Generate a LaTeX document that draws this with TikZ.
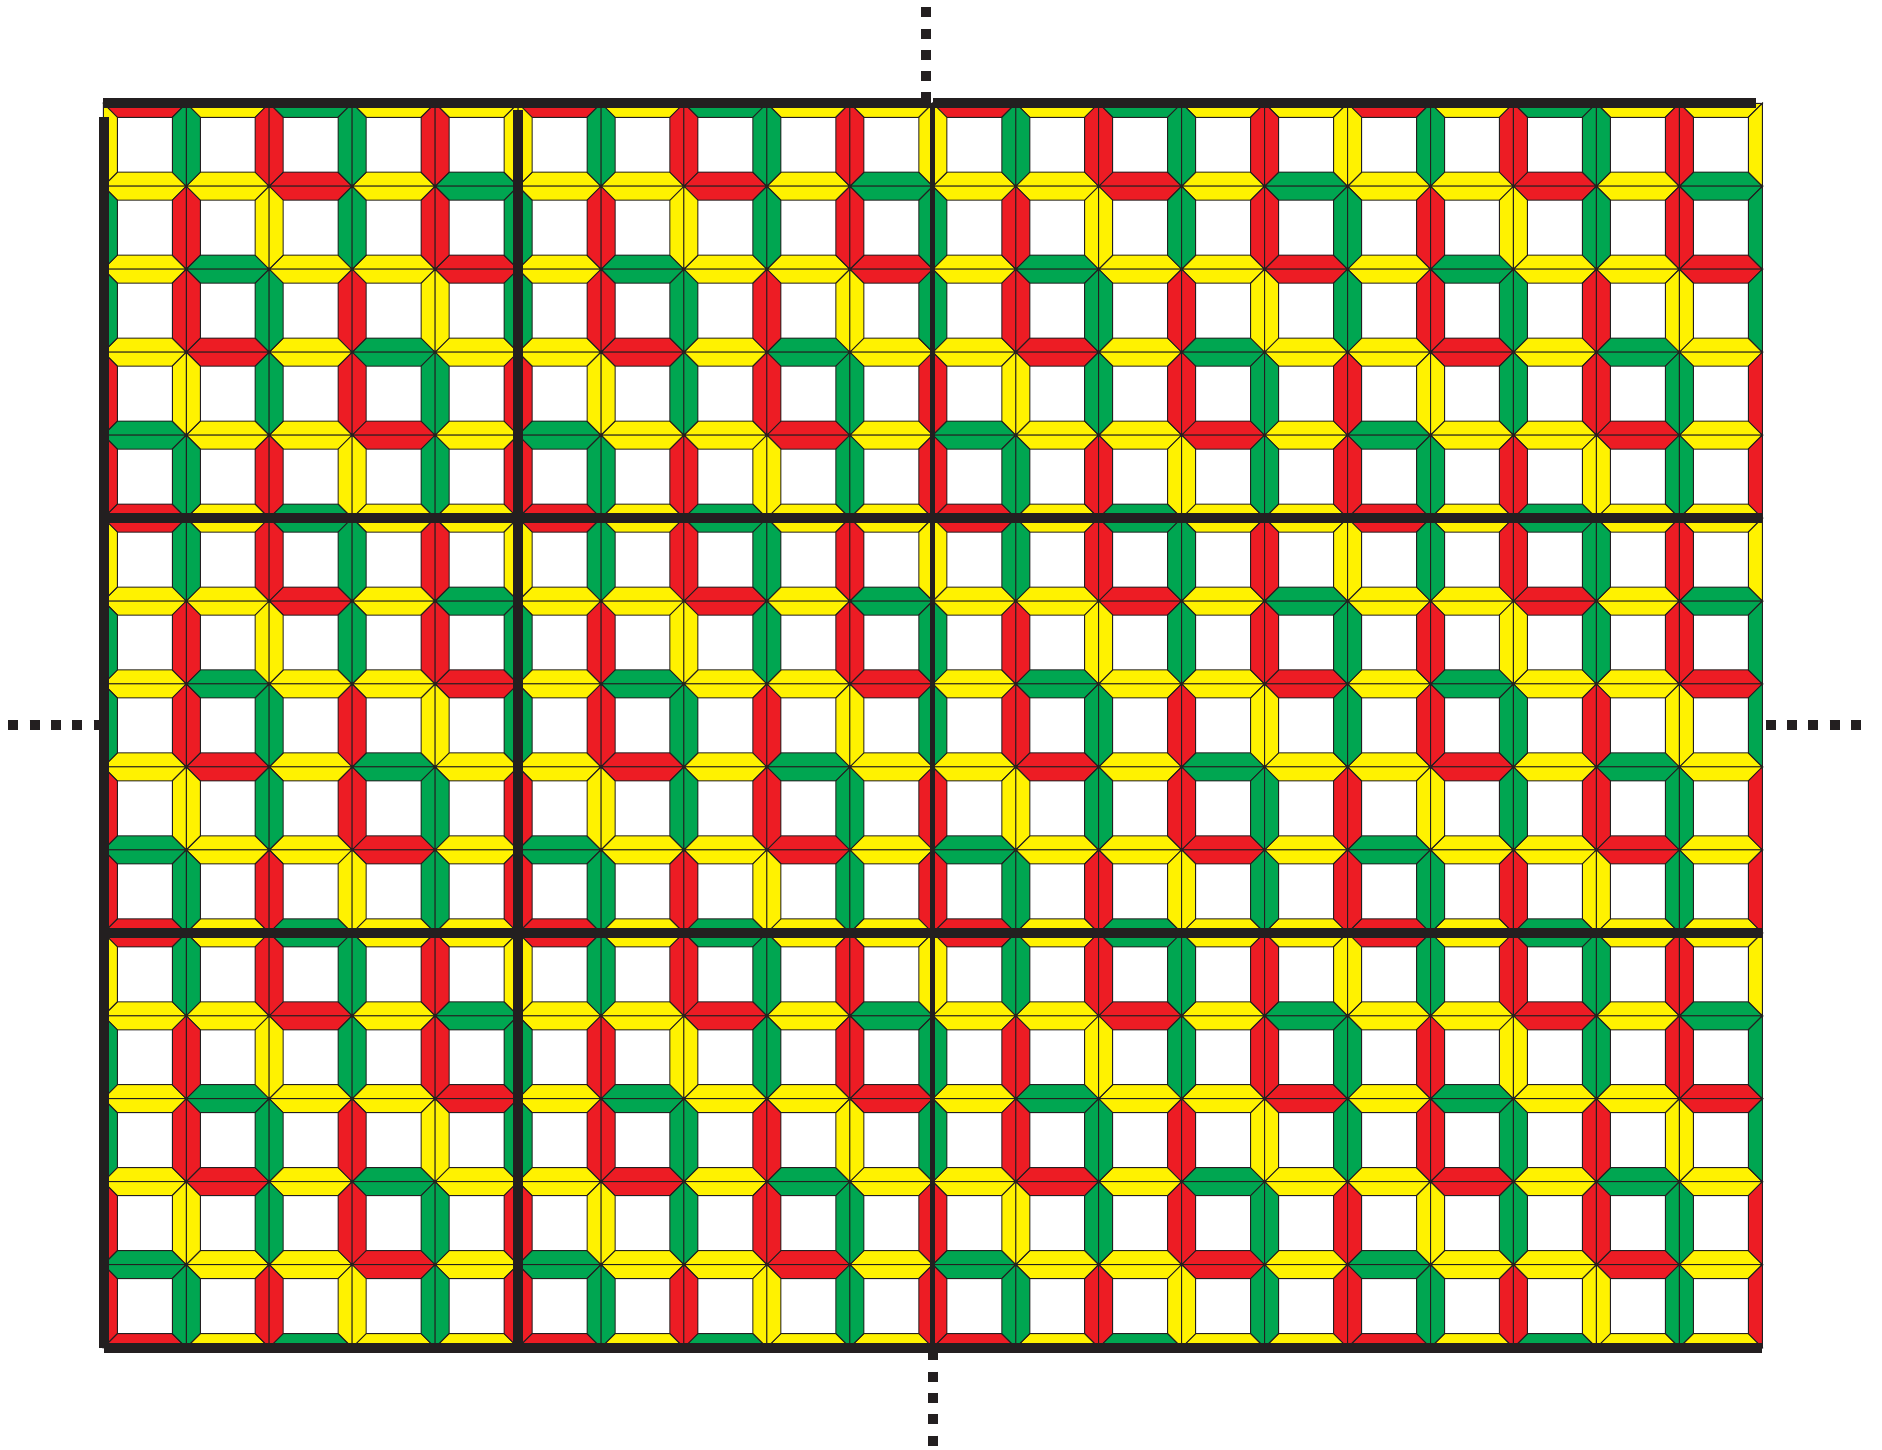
\documentclass[tikz,border=0pt]{standalone}
\usepackage{xcolor}
\definecolor{tileR}{HTML}{ED1C24}
\definecolor{tileG}{HTML}{00A651}
\definecolor{tileY}{HTML}{FFF200}
\definecolor{ink}{HTML}{231F20}
% edge colours of one 5x5 block, row by row
\def\vcol{{"Y","G","R","G","R", "G","R","Y","G","R", "G","R","G","R","Y", "R","Y","G","R","G", "R","G","R","Y","G"}}
\def\hcol{{"R","Y","G","Y","Y", "Y","Y","R","Y","G", "Y","G","Y","Y","R", "Y","R","Y","G","Y", "G","Y","Y","R","Y"}}
\begin{document}
\begin{tikzpicture}[
    x=0.5pt, y=-0.5pt,
    piece/.style={draw=ink, line width=0.5pt, line join=miter},
    rule/.style={draw=ink, line width=5pt},
    thinrule/.style={draw=ink, line width=2.5pt},
    dots/.style={draw=ink, line width=5pt, dash pattern=on 5pt off 5.65pt}
]
\useasboundingbox (0,0) rectangle (1882,1449);
\def\cs{82.95}
\def\fw{14}
\def\org{103.3}

% framed windows
\foreach \r in {0,...,14}{
  \foreach \c in {0,...,19}{
    \pgfmathsetmacro\xa{\org+\c*\cs}
    \pgfmathsetmacro\xb{\xa+\cs}
    \pgfmathsetmacro\xc{\xa+\fw}
    \pgfmathsetmacro\xd{\xb-\fw}
    \pgfmathsetmacro\ya{\org+\r*\cs}
    \pgfmathsetmacro\yb{\ya+\cs}
    \pgfmathsetmacro\yc{\ya+\fw}
    \pgfmathsetmacro\yd{\yb-\fw}
    \pgfmathtruncatemacro\hi{mod(\r,5)*5+mod(\c,5)}
    \pgfmathtruncatemacro\hj{mod(\r+1,5)*5+mod(\c,5)}
    \pgfmathtruncatemacro\vk{mod(\r,5)*5+mod(\c+1,5)}
    \pgfmathsetmacro\ctop{\hcol[\hi]}
    \pgfmathsetmacro\cbot{\hcol[\hj]}
    \pgfmathsetmacro\clft{\vcol[\hi]}
    \pgfmathsetmacro\crgt{\vcol[\vk]}
    \draw[piece, fill=tile\ctop] (\xa,\ya) -- (\xb,\ya) -- (\xd,\yc) -- (\xc,\yc) -- cycle;
    \draw[piece, fill=tile\cbot] (\xa,\yb) -- (\xb,\yb) -- (\xd,\yd) -- (\xc,\yd) -- cycle;
    \draw[piece, fill=tile\clft] (\xa,\ya) -- (\xc,\yc) -- (\xc,\yd) -- (\xa,\yb) -- cycle;
    \draw[piece, fill=tile\crgt] (\xb,\ya) -- (\xd,\yc) -- (\xd,\yd) -- (\xb,\yb) -- cycle;
  }
}

% block rules
\coordinate (tl) at (103.3,103.3);
\coordinate (tm) at (931,103.3);
\coordinate (tn) at (933.3,103.3);
\coordinate (tr) at (1755.7,103.3);
\draw[rule] (tl) -- (tm);
\draw[rule] (tn) -- (tr);
\coordinate (lt) at (103.7,117.3);
\coordinate (lb) at (103.7,1347.5);
\draw[rule] (lt) -- (lb);
\coordinate (bl) at (104,1347.7);
\coordinate (br) at (1762.3,1347.7);
\draw[rule] (bl) -- (br);
\coordinate (v1t) at (518.3,110);
\coordinate (v1b) at (518.3,1347.5);
\draw[rule] (v1t) -- (v1b);
\coordinate (v2t) at (932.8,103.3);
\coordinate (v2b) at (932.8,1347.5);
\draw[thinrule] (v2t) -- (v2b);
\coordinate (h1l) at (103.3,518.1);
\coordinate (h1r) at (1762.3,518.1);
\draw[rule] (h1l) -- (h1r);
\coordinate (h2l) at (103.3,932.8);
\coordinate (h2r) at (1762.3,932.8);
\draw[rule] (h2l) -- (h2r);

% dotted axes
\coordinate (dt1) at (926,7.3);
\coordinate (dt2) at (926,103);
\draw[dots] (dt1) -- (dt2);
\coordinate (db1) at (933.3,1350.3);
\coordinate (db2) at (933.3,1446);
\draw[dots] (db1) -- (db2);
\coordinate (dl1) at (8.3,725.4);
\coordinate (dl2) at (103.5,725.4);
\draw[dots] (dl1) -- (dl2);
\coordinate (dr1) at (1765.7,725.4);
\coordinate (dr2) at (1861,725.4);
\draw[dots] (dr1) -- (dr2);
\end{tikzpicture}
\end{document}
